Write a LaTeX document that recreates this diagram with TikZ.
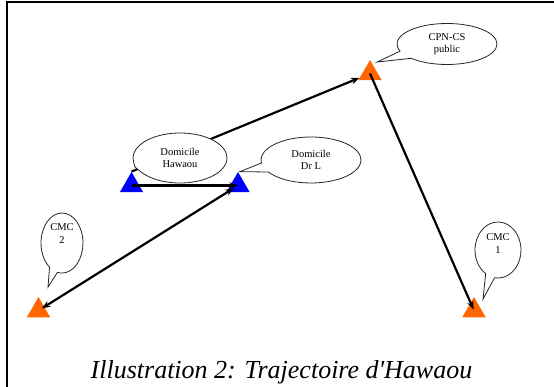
\documentclass[tikz,border=0pt]{standalone}
\usepackage{fontspec}
\setmainfont{Liberation Serif}[Ligatures=TeXOff]
\usetikzlibrary{shapes.geometric,shapes.callouts,arrows.meta,calc}
\definecolor{tri orange}{RGB}{255,102,0}
\definecolor{tri blue}{RGB}{0,0,255}
\begin{document}
\begin{tikzpicture}[x=1pt,y=-1pt,
  site/.style={regular polygon,regular polygon sides=3,minimum size=27pt,inner sep=0pt,draw=none},
  home/.style={site,fill=tri blue},
  place/.style={site,fill=tri orange},
  route/.style={line width=2.2pt,-{Stealth[length=8.5pt,width=6.5pt]}},
  bubble/.style={ellipse callout,draw=black!85,line width=0.8pt,fill=white,inner sep=0pt,
    align=center,font=\fontsize{10.5}{12.5}\selectfont,callout pointer arc=24},
  frameline/.style={line width=1.4pt}]
\useasboundingbox (0,0) rectangle (554,387);
% frame
\coordinate (ftl) at (7,2);
\coordinate (ftr) at (554,2);
\coordinate (fbl) at (7,387);
\draw[frameline] (ftr) -- (ftl) -- (fbl);
% sites
\node[home] (hawaou) at (131.5,185.5) {};
\node[home] (drl) at (238,185.5) {};
\node[place] (cpn) at (370,73.5) {};
\node[place] (cmc2) at (38.5,310.5) {};
\node[place] (cmc1) at (474,310.5) {};
% routes
\draw[route] (hawaou.center) -- (drl.center);
\draw[route] (hawaou.north) -- (cpn);
\draw[route,shorten >=1pt] (cpn.center) -- (cmc1.center);
\draw[route,{Stealth[length=8.5pt,width=6.5pt]}-{Stealth[length=8.5pt,width=6.5pt]},shorten <=5pt,shorten >=4pt] (drl.center) -- (cmc2.center);
% callouts
\node[bubble,minimum width=94pt,minimum height=50pt,
  callout absolute pointer={($(hawaou.north)+(3.5,-4.5)$)}] (hawbub) at (180,158) {Domicile\\Hawaou};
\node[bubble,minimum width=100pt,minimum height=46pt,
  callout absolute pointer={($(drl.north)+(2,0)$)}] (drlbub) at (311,160) {Domicile\\Dr L};
\node[bubble,minimum width=100pt,minimum height=41pt,
  callout absolute pointer={($(cpn.north)+(7,2.5)$)}] (cpnbub) at (447,44) {CPN-CS\\public};
\node[bubble,minimum width=42pt,minimum height=60pt,
  callout absolute pointer={($(cmc2.north)+(9.5,-9.5)$)}] (cmc2bub) at (62,243) {CMC\\2\\[6pt]\mbox{}};
\node[bubble,minimum width=46pt,minimum height=56pt,
  callout absolute pointer={($(cmc1.north)+(9,2.5)$)}] (cmc1bub) at (498,250) {CMC\\1\\\mbox{}};
% caption
\node[anchor=base,inner sep=0pt,font=\fontsize{26}{31}\selectfont\itshape] (caption) at (281.5,378) {Illustration 2: Trajectoire d'Hawaou};
\end{tikzpicture}
\end{document}
